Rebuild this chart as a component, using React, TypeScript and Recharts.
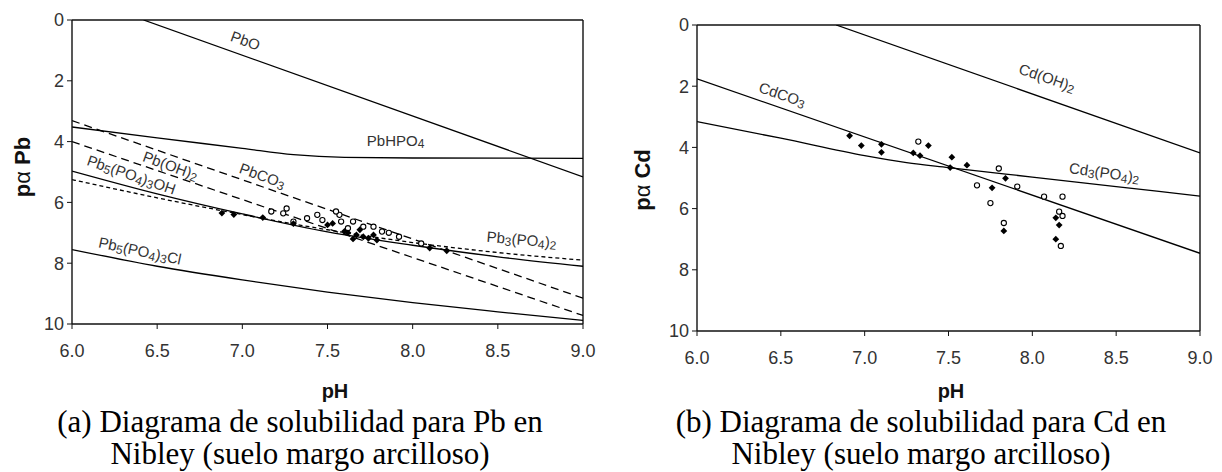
import React from 'react';
import {
  ComposedChart, Line, Scatter, XAxis, YAxis, ReferenceLine, ReferenceDot,
} from 'recharts';

// ---------- shared axes ----------
const PH_TICKS = [6, 6.5, 7, 7.5, 8, 8.5, 9];
const PA_TICKS = [0, 2, 4, 6, 8, 10];

// ---------- (a) Pb : curves [pH, pα] ----------
const pbO = [[6.42, 0], [9, 5.16]];
const pbHPO4 = [[6, 3.52], [6.5, 3.88], [7, 4.22], [7.3, 4.43], [7.6, 4.52], [8, 4.54], [9, 4.55]];
const pbOH2 = [[6, 3.31], [9, 9.15]];
const pbCO3 = [[6, 4.0], [9, 9.72]];
const pb5PO43OH = [[6, 4.97], [6.5, 5.72], [7, 6.38], [7.5, 6.97], [8, 7.41], [8.5, 7.79], [9, 8.1]];
const pb3PO42 = [[6, 5.25], [6.5, 5.85], [7, 6.4], [7.5, 6.9], [8, 7.32], [8.5, 7.65], [9, 7.9]];
const pb5PO43Cl = [[6, 7.55], [6.5, 8.1], [7, 8.55], [7.5, 8.95], [8, 9.3], [8.5, 9.6], [9, 9.88]];

// ---------- (a) Pb : samples ----------
const pbOpen = [
  [7.17, 6.3], [7.24, 6.36], [7.3, 6.63], [7.38, 6.52], [7.44, 6.41], [7.47, 6.58],
  [7.57, 6.41], [7.58, 6.63], [7.65, 6.63], [7.71, 6.8], [7.77, 6.8], [7.82, 6.96],
  [7.86, 7.0], [7.92, 7.13], [7.26, 6.2], [7.55, 6.3], [8.05, 7.35], [7.62, 6.85],
];
const pbFilled = [
  [7.5, 6.74], [7.53, 6.69], [7.62, 7.0], [7.67, 7.07], [7.69, 6.9], [7.71, 7.13],
  [7.74, 7.18], [7.77, 7.07], [7.79, 7.24], [8.1, 7.5], [8.2, 7.59], [7.3, 6.7],
  [7.6, 6.95], [7.65, 7.2], [7.12, 6.5], [6.95, 6.4], [6.88, 6.35],
];

// ---------- (b) Cd : curves ----------
const cdOH2 = [[6.83, 0], [9, 4.18]];
const cdCO3 = [[6, 1.76], [9, 7.46]];
const cd3PO42 = [[6, 3.16], [6.5, 3.7], [7, 4.27], [7.25, 4.5], [7.5, 4.66], [8, 4.97], [8.5, 5.28], [9, 5.59]];

// ---------- (b) Cd : samples ----------
const cdFilled = [
  [6.91, 3.62], [6.98, 3.94], [7.1, 3.9], [7.1, 4.16], [7.29, 4.18], [7.33, 4.27],
  [7.38, 3.94], [7.52, 4.32], [7.51, 4.66], [7.61, 4.58], [7.84, 5.01], [7.76, 5.32],
  [7.83, 6.73], [8.14, 6.3], [8.16, 6.54], [8.14, 7.0],
];
const cdOpen = [
  [7.32, 3.81], [7.8, 4.69], [7.67, 5.24], [7.91, 5.28], [7.75, 5.82], [8.07, 5.61],
  [8.18, 5.61], [7.83, 6.47], [8.16, 6.1], [8.18, 6.24], [8.17, 7.22],
];

const toXY = (arr: number[][]) => arr.map(([x, y]) => ({ x, y }));

const SANS = 'Arial, "Liberation Sans", Helvetica, sans-serif';
const SERIF = '"Liberation Serif", "Times New Roman", serif';

type Part = [string, boolean]; // text, subscript?

const makeLabel = (parts: Part[], angle: number) => (props: any) => {
  const vb = props.viewBox || {};
  const cx = (vb.x || 0) + (vb.width || 0) / 2;
  const cy = (vb.y || 0) + (vb.height || 0) / 2;
  let shifted = false;
  return (
    <text
      x={cx}
      y={cy}
      textAnchor="middle"
      dominantBaseline="central"
      transform={`rotate(${angle} ${cx} ${cy})`}
      fontFamily={SANS}
      fontSize={15}
      fill="#333"
    >
      {parts.map(([t, sub], i) => {
        let dy = 0;
        if (sub && !shifted) { dy = 4; shifted = true; }
        else if (!sub && shifted) { dy = -4; shifted = false; }
        return (
          <tspan key={i} dy={dy} fontSize={sub ? 12 : 15}>{t}</tspan>
        );
      })}
    </text>
  );
};

const OpenDot = (p: any) => (
  <circle cx={p.cx} cy={p.cy} r={2.6} fill="#fff" stroke="#000" strokeWidth={1.1} />
);
const FilledDot = (p: any) => (
  <path
    d={`M${p.cx},${p.cy - 3.4} L${p.cx + 3.4},${p.cy} L${p.cx},${p.cy + 3.4} L${p.cx - 3.4},${p.cy} Z`}
    fill="#000"
  />
);

type LineSpec = { data: number[][]; dash?: string; type?: any };
type LabelSpec = { x: number; y: number; parts: Part[]; angle: number };

function Panel(props: {
  width: number; height: number; top: number; right: number; yWidth: number; xHeight: number;
  lines: LineSpec[]; open: number[][]; filled: number[][]; labels: LabelSpec[];
}) {
  const tick = { fill: '#333', fontSize: 18, fontFamily: SANS };
  return (
    <ComposedChart
      width={props.width}
      height={props.height}
      margin={{ top: props.top, right: props.right, bottom: 0, left: 0 }}
    >
      <XAxis
        type="number" dataKey="x" domain={[6, 9]} ticks={PH_TICKS}
        tickFormatter={(v: number) => v.toFixed(1)}
        height={props.xHeight} tickSize={5} tickMargin={15} tick={tick}
        axisLine={{ stroke: '#111', strokeWidth: 1.4 }} tickLine={{ stroke: '#111' }}
        allowDataOverflow interval={0}
      />
      <YAxis
        type="number" dataKey="y" domain={[0, 10]} reversed ticks={PA_TICKS}
        width={props.yWidth} tickSize={5} tickMargin={3} tick={tick}
        axisLine={{ stroke: '#111', strokeWidth: 1.4 }} tickLine={{ stroke: '#111' }}
        allowDataOverflow interval={0}
      />
      <ReferenceLine y={0} stroke="#111" strokeWidth={1.4} />
      <ReferenceLine x={9} stroke="#111" strokeWidth={1.4} />
      {props.lines.map((l, i) => (
        <Line
          key={i}
          data={toXY(l.data)}
          dataKey="y"
          type={l.type || 'linear'}
          stroke="#000"
          strokeWidth={1.3}
          strokeDasharray={l.dash}
          dot={false}
          activeDot={false}
          isAnimationActive={false}
        />
      ))}
      <Scatter data={toXY(props.open)} dataKey="y" shape={OpenDot} isAnimationActive={false} />
      <Scatter data={toXY(props.filled)} dataKey="y" shape={FilledDot} isAnimationActive={false} />
      {props.labels.map((lb, i) => (
        <ReferenceDot
          key={i} x={lb.x} y={lb.y} r={0} fill="none" stroke="none"
          ifOverflow="visible" label={makeLabel(lb.parts, lb.angle)}
        />
      ))}
    </ComposedChart>
  );
}

const pbLines: LineSpec[] = [
  { data: pbO },
  { data: pbHPO4, type: 'monotone' },
  { data: pbOH2, dash: '8 5' },
  { data: pbCO3, dash: '8 5' },
  { data: pb5PO43OH, type: 'monotone' },
  { data: pb3PO42, dash: '4 3', type: 'monotone' },
  { data: pb5PO43Cl, type: 'monotone' },
];
const pbLabels: LabelSpec[] = [
  { x: 7.02, y: 0.66, parts: [['PbO', false]], angle: 20 },
  { x: 7.9, y: 3.95, parts: [['PbHPO', false], ['4', true]], angle: 0 },
  { x: 6.58, y: 4.77, parts: [['Pb(OH)', false], ['2', true]], angle: 20 },
  { x: 7.12, y: 5.1, parts: [['PbCO', false], ['3', true]], angle: 20 },
  { x: 6.35, y: 5.07, parts: [['Pb', false], ['5', true], ['(PO', false], ['4', true], [')', false], ['3', true], ['OH', false]], angle: 19 },
  { x: 8.64, y: 7.2, parts: [['Pb', false], ['3', true], ['(PO', false], ['4', true], [')', false], ['2', true]], angle: 5 },
  { x: 6.4, y: 7.57, parts: [['Pb', false], ['5', true], ['(PO', false], ['4', true], [')', false], ['3', true], ['Cl', false]], angle: 12 },
];

const cdLines: LineSpec[] = [
  { data: cdOH2 },
  { data: cdCO3 },
  { data: cd3PO42, type: 'monotone' },
];
const cdLabels: LabelSpec[] = [
  { x: 8.09, y: 1.7, parts: [['Cd(OH)', false], ['2', true]], angle: 19 },
  { x: 6.51, y: 2.25, parts: [['CdCO', false], ['3', true]], angle: 19 },
  { x: 8.43, y: 4.8, parts: [['Cd', false], ['3', true], ['(PO', false], ['4', true], [')', false], ['2', true]], angle: 8 },
];

export default function App() {
  return (
    <div style={{ position: 'absolute', left: 0, top: 0, width: 1222, height: 472, background: '#fff', overflow: 'hidden' }}>
      <div style={{ position: 'absolute', left: 0, top: 0 }}>
        <Panel width={611} height={372} top={20} right={28} yWidth={72} xHeight={48}
          lines={pbLines} open={pbOpen} filled={pbFilled} labels={pbLabels} />
      </div>
      <div style={{ position: 'absolute', left: 611, top: 0 }}>
        <Panel width={611} height={372} top={25} right={22} yWidth={86} xHeight={41}
          lines={cdLines} open={cdOpen} filled={cdFilled} labels={cdLabels} />
      </div>
      <svg width={1222} height={472} style={{ position: 'absolute', left: 0, top: 0, pointerEvents: 'none' }}>
        <text x={30} y={167} transform="rotate(-90 30 167)" textAnchor="middle" fontFamily={SANS} fontSize={22} fill="#111">
          <tspan fontWeight="bold">p</tspan><tspan>α</tspan><tspan fontWeight="bold"> Pb</tspan>
        </text>
        <text x={650} y={180} transform="rotate(-90 650 180)" textAnchor="middle" fontFamily={SANS} fontSize={22} fill="#111">
          <tspan fontWeight="bold">p</tspan><tspan>α</tspan><tspan fontWeight="bold"> Cd</tspan>
        </text>
        <text x={335} y={398} textAnchor="middle" fontFamily={SANS} fontSize={20} fontWeight="bold" fill="#111">pH</text>
        <text x={951} y={398} textAnchor="middle" fontFamily={SANS} fontSize={20} fontWeight="bold" fill="#111">pH</text>
        <g fontFamily={SERIF} fontSize={31} fill="#000" textAnchor="middle">
          <text x={300} y={432}>(a) Diagrama de solubilidad para Pb en</text>
          <text x={300} y={464}>Nibley (suelo margo arcilloso)</text>
          <text x={921} y={432}>(b) Diagrama de solubilidad para Cd en</text>
          <text x={921} y={464}>Nibley (suelo margo arcilloso)</text>
        </g>
      </svg>
    </div>
  );
}
